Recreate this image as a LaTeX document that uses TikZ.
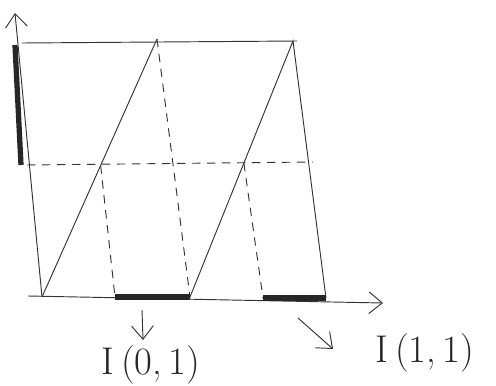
\documentclass[tikz,border=0pt]{standalone}
\usepackage{tikz}
\usetikzlibrary{arrows.meta,calc}

\begin{document}
\begin{tikzpicture}[
    x=0.03cm, y=-0.03cm,
    >={Straight Barb[length=4mm,width=6.5mm]},
    pen/.style={draw=black!80, line width=0.8pt},
    guide/.style={pen, dash pattern=on 2.5mm off 2mm},
    axis/.style={pen, ->},
    markbar/.style={draw=black!85, line width=4.5pt},
    tag/.style={font=\fontsize{33}{35}\selectfont, text=black!85, inner sep=0pt}]
  \useasboundingbox (0,0) rectangle (496,385);
  % axes
  \coordinate (orig) at (42,297);
  \coordinate (ytip) at (15,13);
  \coordinate (xfrom) at (28,296);
  \coordinate (xtip) at (383,303);
  \draw[axis] (orig) -- (ytip);
  \draw[axis] (xfrom) -- (xtip);
  % levels
  \coordinate (topL) at (22,43);
  \coordinate (topR) at (297,41);
  \coordinate (midL) at (27,165);
  \coordinate (midR) at (313,162);
  \draw[pen] (topL) -- (topR);
  \draw[guide] (midL) -- (midR);
  \coordinate (hiA) at (15,45);
  \coordinate (hiB) at (21,165);
  \draw[markbar] (hiA) -- (hiB);

  % branches
  \coordinate (peakA) at (157,39);
  \coordinate (baseA) at (190,297);
  \coordinate (peakB) at (293,41);
  \coordinate (baseB) at (326,298);
  \draw[pen] (orig) -- (peakA);
  \draw[guide] (peakA) -- (baseA);
  \draw[pen] (baseA) -- (peakB) -- (baseB);

  % preimages
  \coordinate (cutA) at ($(orig)!0.51!(peakA)$);
  \coordinate (footA) at (115,297);
  \coordinate (cutB) at ($(baseA)!0.523!(peakB)$);
  \coordinate (footB) at (263,298);
  \draw[guide] (cutA) -- (footA);
  \draw[guide] (cutB) -- (footB);
  \draw[markbar] (footA) -- (baseA);
  \draw[markbar] (footB) -- (baseB);

  % labels
  \node[tag] (labA) at (151,365) {I\,(0,\,1)};
  \node[tag] (labB) at (425,353) {I\,(1,\,1)};
  \coordinate (arrA) at (142,310);
  \coordinate (arrAend) at (143,340);
  \coordinate (arrB) at (298,318);
  \coordinate (arrBend) at (333,349);
  \draw[pen, ->] (arrA) -- (arrAend);
  \draw[pen, ->] (arrB) -- (arrBend);
\end{tikzpicture}
\end{document}
